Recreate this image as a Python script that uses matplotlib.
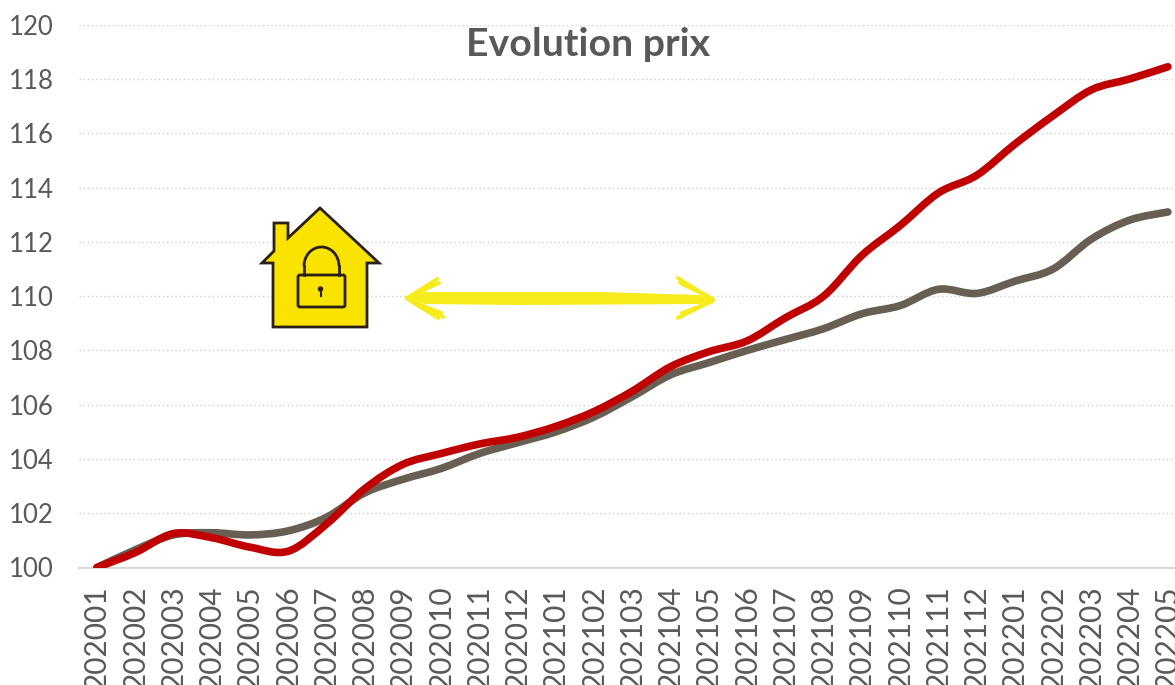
"""Evolution prix: two smoothed price index lines with a house/lock icon."""

import matplotlib
matplotlib.use("Agg")
import matplotlib.pyplot as plt
import numpy as np
from matplotlib.patches import Arc, Circle, FancyBboxPatch, PathPatch, Polygon
from matplotlib.path import Path

plt.rcParams["font.family"] = ["Lato", "DejaVu Sans"]

months = ["202001", "202002", "202003", "202004", "202005", "202006", "202007",
          "202008", "202009", "202010", "202011", "202012", "202101", "202102",
          "202103", "202104", "202105", "202106", "202107", "202108", "202109",
          "202110", "202111", "202112", "202201", "202202", "202203", "202204",
          "202205"]
index_red = [100, 100.55, 101.25, 101.1, 100.75, 100.6, 101.6, 102.9, 103.8, 104.2,
             104.55, 104.8, 105.2, 105.75, 106.5, 107.4, 107.95, 108.35, 109.2, 110.0,
             111.5, 112.6, 113.8, 114.45, 115.6, 116.65, 117.6, 118.0, 118.45]
index_grey = [100, 100.65, 101.2, 101.28, 101.2, 101.35, 101.85, 102.75, 103.25, 103.65,
              104.2, 104.6, 105.0, 105.55, 106.3, 107.1, 107.55, 108.0, 108.4, 108.8,
              109.35, 109.65, 110.25, 110.1, 110.55, 111.0, 112.1, 112.8, 113.1]
y_ticks = list(range(100, 121, 2))

TEXT = "#595959"
RED = "#C00000"
GREY = "#675E54"
YELLOW = "#F6EC1B"
ICON = "#FBE300"
DARK = "#2A2016"


def smooth_path(values):
    """Bezier path through the points, same kind of smoothing as a spreadsheet line."""
    pts = np.column_stack([np.arange(len(values)), values]).astype(float)
    padded = np.vstack([pts[0], pts, pts[-1]])
    verts = [pts[0]]
    codes = [Path.MOVETO]
    for i in range(1, len(padded) - 2):
        verts.append(padded[i] + (padded[i + 1] - padded[i - 1]) / 6)
        verts.append(padded[i + 1] - (padded[i + 2] - padded[i]) / 6)
        verts.append(padded[i + 1])
        codes += [Path.CURVE4] * 3
    return Path(verts, codes)


fig = plt.figure(figsize=(11.75, 6.85), dpi=100)
ax = fig.add_axes([79 / 1175, (685 - 567.5) / 685, 1108 / 1175, 542.8 / 685])

for values, color in ((index_grey, GREY), (index_red, RED)):
    ax.add_patch(PathPatch(smooth_path(values), fill=False, edgecolor=color, lw=5.5,
                           capstyle="round", joinstyle="round", zorder=3))

ax.set_xlim(-0.47, 28.5)
ax.set_ylim(100, 120)
ax.set_xticks(range(len(months)))
ax.set_xticklabels(months, rotation=90)
ax.set_yticks(y_ticks)
ax.tick_params(axis="both", length=0, labelcolor=TEXT)
ax.tick_params(axis="x", pad=13, labelsize=21.5)
ax.tick_params(axis="y", pad=18, labelsize=18.5)
ax.yaxis.grid(True, color="#CFCFCF", lw=1, ls=(0, (1, 2)))
ax.set_axisbelow(True)
for side in ("top", "right", "left"):
    ax.spines[side].set_visible(False)
ax.spines["bottom"].set_color("#D9D9D9")
ax.spines["bottom"].set_linewidth(1.5)

fig.text(588.5 / 1175, 1 - 44 / 685, "Evolution prix", fontsize=28.3, fontweight="bold",
         color=TEXT, ha="center", va="center")

# overlay in picture pixels for the icon and the hand drawn arrow
over = fig.add_axes([0, 0, 1, 1], facecolor="none")
over.set_xlim(0, 1175)
over.set_ylim(685, 0)
over.axis("off")

house = [(320, 208), (379, 263), (367, 263), (367, 327), (273, 327), (273, 263), (262, 263),
         (274, 251), (274, 223), (288, 223), (288, 238)]
over.add_patch(Polygon(house, closed=True, facecolor=ICON, edgecolor=DARK, lw=2))
over.add_patch(Arc((321.5, 266), 35, 38, theta1=180, theta2=360, edgecolor=DARK, lw=2))
over.plot([304, 304], [266, 275], color=DARK, lw=2)
over.plot([339, 339], [266, 275], color=DARK, lw=2)
over.add_patch(FancyBboxPatch((298, 275), 47, 32, boxstyle="round,pad=0,rounding_size=2",
                              facecolor=ICON, edgecolor=DARK, lw=2))
over.add_patch(Circle((320.5, 289), 2, color=DARK))
over.plot([320.5, 320.5], [289, 296], color=DARK, lw=1.5)

# arrow shaft and sketchy heads
shaft = [(408, 298), (425, 292), (600, 292), (700, 295), (713, 300), (700, 304),
         (520, 305), (425, 304)]
over.add_patch(Polygon(shaft, closed=True, facecolor=YELLOW, edgecolor="none"))
strokes = [(407, 298, 437, 279), (409, 297, 439, 283), (412, 296, 434, 284),
           (407, 298, 443, 317), (409, 300, 441, 313), (412, 302, 438, 318),
           (713, 300, 678, 278), (711, 298, 682, 284), (708, 296, 680, 282),
           (713, 300, 678, 318), (711, 302, 682, 313), (708, 303, 681, 316)]
for x0, y0, x1, y1 in strokes:
    over.plot([x0, x1], [y0, y1], color=YELLOW, lw=2.6)

fig.savefig("out.png", dpi=100)
